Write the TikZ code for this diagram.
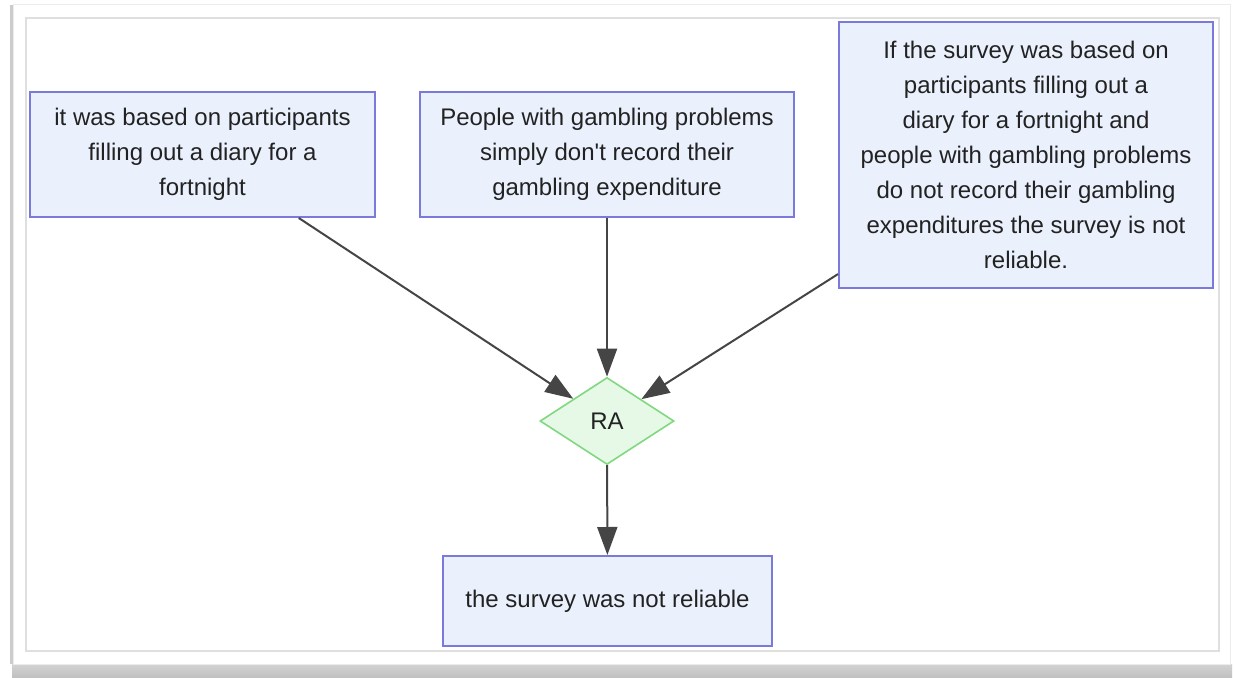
\documentclass[tikz,border=0pt]{standalone}
\usepackage{fontspec}
\setmainfont{Liberation Sans}
\usetikzlibrary{shapes.geometric,arrows.meta}
\definecolor{boxfill}{HTML}{EAF0FC}
\definecolor{boxline}{HTML}{7A7ADC}
\definecolor{rafill}{HTML}{E6F9E6}
\definecolor{raline}{HTML}{80D880}
\definecolor{linkcol}{HTML}{454545}
\definecolor{txt}{HTML}{222222}
\tikzset{
  claim/.style={draw=boxline, fill=boxfill, line width=1pt, align=center, text=txt, inner sep=0pt, font=\fontsize{12}{17.5}\selectfont},
  ra/.style={diamond, draw=raline, fill=rafill, line width=0.8pt, inner sep=0pt, minimum width=67pt, minimum height=43.5pt, text=txt, font=\fontsize{12}{14}\selectfont},
  link/.style={draw=linkcol, line width=1pt, -{Triangle[length=14pt,width=10pt]}}
}
\begin{document}
\begin{tikzpicture}[x=0.5pt,y=-0.5pt]
\useasboundingbox (0,0) rectangle (1234,678);
% frame and shadow
\fill[white] (0,0) rectangle (1234,678);
\shade[top color=gray!35, middle color=gray!70, bottom color=gray!50] (12,664) rectangle (1232,678);
\fill[gray!40] (10,5) rectangle (13,664);
\draw[gray!15, line width=0.5pt] (13,5) rectangle (1230,664);
\draw[gray!25, line width=0.6pt] (26,18) rectangle (1219,651);
% premises
\node[claim, minimum width=172.5pt, minimum height=62.5pt] (b1) at (202.5,154.5)
  {it was based on participants\\filling out a diary for a\\fortnight};
\node[claim, minimum width=187pt, minimum height=62.5pt] (b2) at (607,154.5)
  {People with gambling problems\\simply don\textquotesingle t record their\\gambling expenditure};
\node[claim, minimum width=187pt, minimum height=133pt] (b3) at (1026,155)
  {If the survey was based on\\participants filling out a\\diary for a fortnight and\\people with gambling problems\\do not record their gambling\\expenditures the survey is not\\reliable.};
% inference and conclusion
\node[ra] (ra) at (607,421) {RA};
\node[claim, minimum width=164.5pt, minimum height=45pt] (c) at (607.5,601)
  {the survey was not reliable};
\draw[link] (b1) -- (ra);
\draw[link] (b2) -- (ra);
\draw[link] (b3) -- (ra);
\draw[link] (ra) -- (c);
\end{tikzpicture}
\end{document}
